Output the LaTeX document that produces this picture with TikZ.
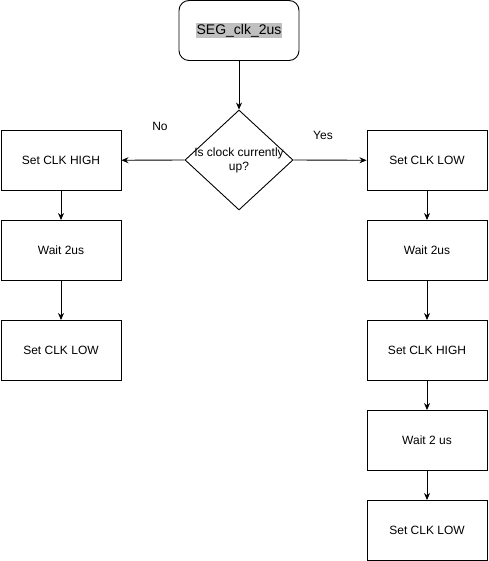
\documentclass[tikz,border=0pt]{standalone}
\usepackage{fontspec}
\setmainfont{Liberation Sans}
\usetikzlibrary{shapes.geometric,arrows.meta}
\definecolor{hl}{HTML}{C0C0C0}
\tikzset{
  x=1pt,y=-1pt,
  every node/.style={font=\fontsize{12}{14}\selectfont},
  box/.style={draw,line width=0.9pt,minimum width=120pt,minimum height=60pt,inner sep=0pt},
  startbox/.style={box,rounded corners=10pt},
  dec/.style={draw,line width=0.9pt,diamond,minimum width=108pt,minimum height=100pt,inner sep=0pt,align=center},
  conn/.style={draw,line width=0.9pt,-{Stealth[length=7pt,width=6pt]}},
  lbl/.style={inner sep=0pt}
}
\begin{document}
\begin{tikzpicture}
\useasboundingbox (0,0) rectangle (488,561);
\node[startbox,font=\fontsize{14}{16}\selectfont] (start) at (239,30.5) {\setlength{\fboxsep}{1pt}\colorbox{hl}{SEG\_clk\_2us}};
\node[dec] (q) at (239,160) {};
\node[lbl,align=center] (qt) at (239,160) {Is clock currently\\up?};
\node[box] (l1) at (61,160.5) {Set CLK HIGH};
\node[box] (l2) at (61,250.5) {Wait 2us};
\node[box] (l3) at (61,350.5) {Set CLK LOW};
\node[box] (r1) at (427,160.5) {Set CLK LOW};
\node[box] (r2) at (427,250.5) {Wait 2us};
\node[box] (r3) at (427,350.5) {Set CLK HIGH};
\node[box] (r4) at (427,440.5) {Wait 2 us};
\node[box] (r5) at (427,530.5) {Set CLK LOW};
\node[lbl] (no) at (160,126) {No};
\node[lbl] (yes) at (323,135) {Yes};
\draw[conn] (start) -- (q);
\draw[conn] (q.west) -- (l1);
\draw[conn] (q.east) -- (r1);
\draw[conn] (l1) -- (l2);
\draw[conn] (l2) -- (l3);
\draw[conn] (r1) -- (r2);
\draw[conn] (r2) -- (r3);
\draw[conn] (r3) -- (r4);
\draw[conn] (r4) -- (r5);
\end{tikzpicture}
\end{document}
